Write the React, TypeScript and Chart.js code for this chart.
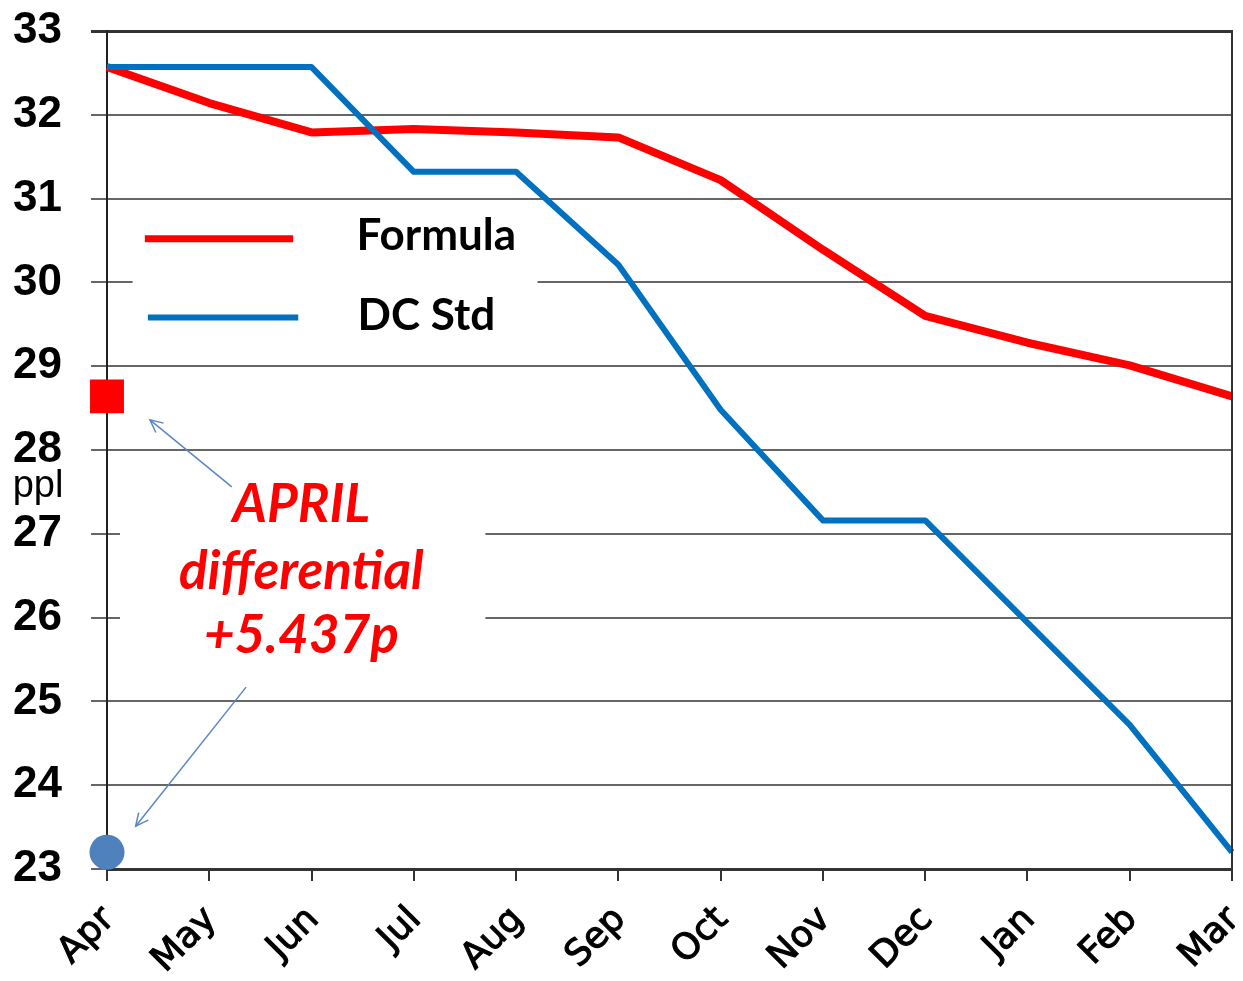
import React, { useEffect, useRef } from "react";
import { Chart, registerables } from "chart.js";

Chart.register(...registerables);

const months = ["Apr", "May", "Jun", "Jul", "Aug", "Sep", "Oct", "Nov", "Dec", "Jan", "Feb", "Mar"];
const formula = [32.57, 32.14, 31.79, 31.83, 31.79, 31.73, 31.22, 30.39, 29.6, 29.28, 29.01, 28.64];
const dcStd = [32.57, 32.57, 32.57, 31.32, 31.32, 30.21, 28.48, 27.16, 27.16, 25.94, 24.72, 23.2];
const aprilFormula = [28.64];
const aprilDcStd = [23.2];
const yMin = 23;
const yMax = 33;
const legendLabels = ["Formula", "DC Std"];
const noteLines = ["APRIL", "differential", "+5.437p"];
const yUnit = "ppl";

const RED = "#ff0000";
const BLUE = "#0070c0";
const MARKER_BLUE = "#4f81bd";
const ARROW = "#5b86c4";

function arrow(ctx: CanvasRenderingContext2D, x1: number, y1: number, x2: number, y2: number) {
  ctx.beginPath();
  ctx.moveTo(x1, y1);
  ctx.lineTo(x2, y2);
  ctx.stroke();
  const a = Math.atan2(y2 - y1, x2 - x1);
  const L = 14;
  const spread = 0.45;
  ctx.beginPath();
  ctx.moveTo(x2 - L * Math.cos(a - spread), y2 - L * Math.sin(a - spread));
  ctx.lineTo(x2, y2);
  ctx.lineTo(x2 - L * Math.cos(a + spread), y2 - L * Math.sin(a + spread));
  ctx.stroke();
}

const overlay = {
  id: "overlay",
  beforeDatasetsDraw(chart: any) {
    const { ctx, scales } = chart;
    const x = scales.x;
    const y = scales.y;
    const X = (v: number) => x.getPixelForValue(v);
    const Y = (v: number) => y.getPixelForValue(v);
    ctx.save();
    ctx.fillStyle = "#ffffff";
    // legend background
    ctx.fillRect(X(0.25), Y(30.8), X(4.21) - X(0.25), Y(29.13) - Y(30.8));
    // note background
    ctx.fillRect(X(0.127), Y(27.76), X(3.7) - X(0.127), Y(25.4) - Y(27.76));
    ctx.restore();
  },
  afterDatasetsDraw(chart: any) {
    const { ctx, scales, chartArea } = chart;
    const x = scales.x;
    const y = scales.y;
    const X = (v: number) => x.getPixelForValue(v);
    const Y = (v: number) => y.getPixelForValue(v);
    ctx.save();
    // right border
    ctx.strokeStyle = "#333";
    ctx.lineWidth = 2;
    ctx.beginPath();
    ctx.moveTo(chartArea.right, chartArea.top - 1);
    ctx.lineTo(chartArea.right, chartArea.bottom);
    ctx.stroke();

    // month labels (rotated 45 degrees)
    ctx.fillStyle = "#000";
    ctx.strokeStyle = "#000";
    ctx.lineWidth = 1.1;
    ctx.font = "36px 'DejaVu Sans'";
    ctx.textAlign = "right";
    ctx.textBaseline = "middle";
    months.forEach((m, i) => {
      ctx.save();
      ctx.translate(X(i) + 2, chartArea.bottom + 45);
      ctx.rotate(-Math.PI / 4);
      ctx.fillText(m, 0, 0);
      ctx.strokeText(m, 0, 0);
      ctx.restore();
    });

    // legend
    ctx.lineCap = "butt";
    ctx.strokeStyle = RED;
    ctx.lineWidth = 7;
    ctx.beginPath();
    ctx.moveTo(X(0.37), Y(30.52));
    ctx.lineTo(X(1.82), Y(30.52));
    ctx.stroke();
    ctx.strokeStyle = BLUE;
    ctx.lineWidth = 6;
    ctx.beginPath();
    ctx.moveTo(X(0.4), Y(29.58));
    ctx.lineTo(X(1.87), Y(29.58));
    ctx.stroke();
    ctx.fillStyle = "#000";
    ctx.font = "bold 44px Lato";
    ctx.textAlign = "left";
    ctx.textBaseline = "middle";
    ctx.fillText(legendLabels[0], X(2.44), Y(30.55));
    ctx.fillText(legendLabels[1], X(2.45), Y(29.6));

    // note text
    ctx.fillStyle = RED;
    ctx.font = "italic bold 53px Lato";
    ctx.textAlign = "center";
    ctx.textBaseline = "alphabetic";
    ctx.fillText(noteLines[0], X(1.9), Y(27.14));
    ctx.fillText(noteLines[1], X(1.9), Y(26.34));
    ctx.fillText(noteLines[2], X(1.9), Y(25.58));

    // arrows
    ctx.strokeStyle = ARROW;
    ctx.lineWidth = 1.5;
    arrow(ctx, X(1.22), Y(27.56), X(0.42), Y(28.36));
    arrow(ctx, X(1.36), Y(25.17), X(0.28), Y(23.51));

    // unit label
    ctx.fillStyle = "#000";
    ctx.font = "38px 'Liberation Sans'";
    ctx.textAlign = "center";
    ctx.textBaseline = "middle";
    ctx.fillText(yUnit, 38 - 8, Y(27.57));
    ctx.restore();
  },
};

export default function App() {
  const ref = useRef<HTMLCanvasElement>(null);
  useEffect(() => {
    if (!ref.current) return;
    const chart = new Chart(ref.current, {
      type: "line",
      data: {
        labels: months,
        datasets: [
          {
            label: legendLabels[1],
            data: dcStd,
            borderColor: BLUE,
            borderWidth: 6,
            pointRadius: 0,
            tension: 0,
            borderJoinStyle: "round",
          },
          {
            label: legendLabels[0],
            data: formula,
            borderColor: RED,
            borderWidth: 8,
            pointRadius: 0,
            tension: 0,
            borderJoinStyle: "round",
          },
          {
            label: "aprilFormula",
            data: aprilFormula,
            showLine: false,
            pointStyle: "rect",
            pointRadius: 24,
            backgroundColor: RED,
            borderColor: RED,
            borderWidth: 0,
            clip: false,
          },
          {
            label: "aprilDcStd",
            data: aprilDcStd,
            showLine: false,
            pointStyle: "circle",
            pointRadius: 17.5,
            backgroundColor: MARKER_BLUE,
            borderColor: MARKER_BLUE,
            borderWidth: 0,
            clip: false,
          },
        ],
      },
      options: {
        responsive: false,
        animation: false,
        events: [],
        layout: { autoPadding: false, padding: { top: 23, right: 11, left: 0, bottom: 0 } },
        plugins: {
          legend: { display: false },
          tooltip: { enabled: false },
        },
        scales: {
          x: {
            type: "category",
            offset: false,
            grid: {
              drawOnChartArea: false,
              drawTicks: true,
              tickLength: 12,
              color: "#333",
              lineWidth: 2,
            },
            border: { display: true, color: "#333", width: 3 },
            ticks: { display: false },
            afterFit(scale: any) {
              scale.height = 104;
              scale.paddingLeft = 0;
              scale.paddingRight = 0;
            },
          },
          y: {
            min: yMin,
            max: yMax,
            ticks: {
              stepSize: 1,
              padding: 29,
              color: "#000",
              font: { family: "'Liberation Sans'", size: 44, weight: "bold" },
            },
            grid: {
              tickLength: 16,
              color: (c: any) => (c.tick && c.tick.value === yMax ? "#333" : "#666"),
              lineWidth: (c: any) => (c.tick && c.tick.value === yMax ? 3 : 2),
            },
            border: { display: true, color: "#222", width: 2 },
            afterFit(scale: any) {
              scale.width = 99;
              scale.paddingTop = 0;
              scale.paddingBottom = 0;
            },
          },
        },
      },
      plugins: [overlay],
    });
    return () => chart.destroy();
  }, []);
  return (
    <canvas
      ref={ref}
      width={1235}
      height={965}
      style={{ display: "block", width: 1235, height: 965 }}
    />
  );
}
